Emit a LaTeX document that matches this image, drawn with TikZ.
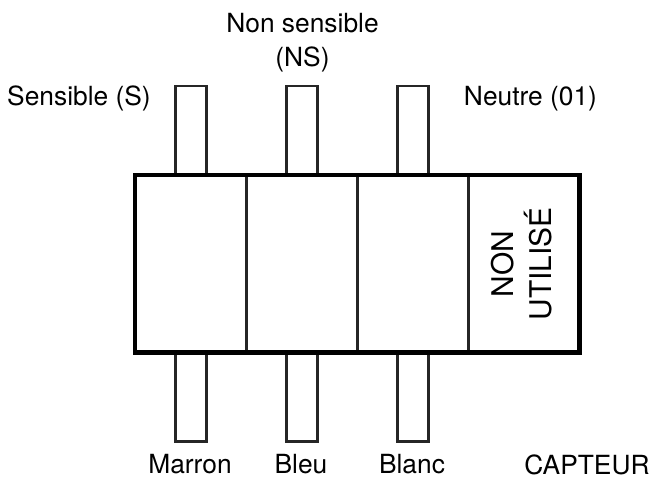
\documentclass[tikz,border=0pt]{standalone}
\usepackage{fontspec}
\setmainfont{TeX Gyre Heros}
\usetikzlibrary{positioning,fit}
\tikzset{
  pin/.style={line width=1.15pt,black!85},
  label/.style={font=\fontsize{15}{19.1}\selectfont, align=center, inner sep=0pt}
}

\begin{document}
\begin{tikzpicture}[x=.02cm,y=-.02cm]
                \useasboundingbox (0,0) rectangle (650,477);
                \def\mainrect{(135,175) rectangle (579.5,352.5)}
                \draw[pin] (175.5,175) rectangle (206.5,86);
                \draw[pin] (286.5,175) rectangle (317.5,86);
                \draw[pin] (397.5,175) rectangle (428.5,86);
                \draw[pin] (175.5,352.5) rectangle (206.5,441.5);
                \draw[pin] (286.5,352.5) rectangle (317.5,441.5);
                \draw[pin] (397.5,352.5) rectangle (428.5,441.5);
                \draw[pin] (246.5,175) -- (246.5,352.5);
                \draw[pin] (357.5,175) -- (357.5,352.5);
                \draw[pin] (468.5,175) -- (468.5,352.5);
                \draw[line width=2.3pt] \mainrect;
                \node[label] (sensible) at (79,98.5) {Sensible (S)};
                \node[label] (nonsensible) at (302.5,42.5) {Non sensible\\(NS)};
                \node[label] (neutre) at (530.5,98.5) {Neutre (01)};
                \node[label,rotate=90,font=\fontsize{17}{22}\selectfont] (nonutilise) at (521.5,264) {NON\\UTILISÉ};
                \node[label] (marron) at (190,464.5) {Marron};
                \node[label] (bleu) at (301,464.5) {Bleu};
                \node[label] (blanc) at (412,464.5) {Blanc};
                \node[label] (capteur) at (587,464.5) {CAPTEUR};
            \end{tikzpicture}
\end{document}
